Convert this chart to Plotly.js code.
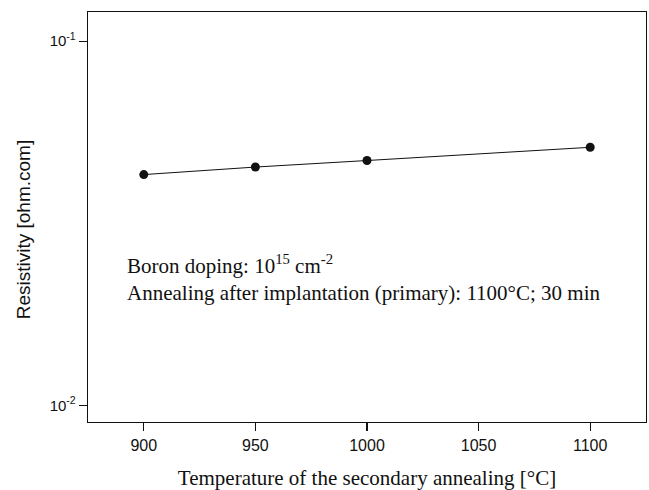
<!DOCTYPE html>
<html>
<head>
<meta charset="utf-8">
<script src="https://cdn.plot.ly/plotly-3.0.1.min.js"></script>
<style>html,body{margin:0;padding:0;background:#fff;}#chart{width:649px;height:490px;}</style>
</head>
<body>
<div id="chart"></div>
<script>
const temperatures = [900, 950, 1000, 1100];
const resistivity = [0.0430, 0.0451, 0.0470, 0.0511];
const yTickVals = [0.01, 0.1];
const yTickText = ['10<sup>-2</sup>', '10<sup>-1</sup>'];
const xTickVals = [900, 950, 1000, 1050, 1100];
const xTitle = 'Temperature of the secondary annealing [°C]';
const yTitle = 'Resistivity [ohm.com]';
const noteText = 'Boron doping: 10<sup>15</sup> cm<sup>-2</sup><br>Annealing after implantation (primary): 1100°C; 30 min';

const sans = 'Arial, "Liberation Sans", sans-serif';
const serif = '"Times New Roman", "Liberation Serif", serif';

const trace = {
  x: temperatures, y: resistivity, type: 'scatter', mode: 'lines+markers',
  line: {color: '#111', width: 1},
  marker: {color: '#111', size: 9, symbol: 'circle'},
  hoverinfo: 'none', showlegend: false
};

const layout = {
  width: 649, height: 490,
  margin: {l: 88, r: 3, t: 12, b: 68},
  paper_bgcolor: '#fff', plot_bgcolor: '#fff',
  xaxis: {
    range: [875, 1125], tickvals: xTickVals, ticks: 'outside', ticklen: 8, tickwidth: 1.2,
    tickcolor: '#111', showline: true, linecolor: '#111', linewidth: 1.3, mirror: true,
    showgrid: false, zeroline: false, tickfont: {family: sans, size: 16, color: '#111'},
    title: {text: xTitle, font: {family: serif, size: 21, color: '#111'}, standoff: 18}
  },
  yaxis: {
    type: 'log', range: [-2.046, -0.920], tickvals: yTickVals, ticktext: yTickText,
    ticks: 'outside', ticklen: 8, tickwidth: 1.2, tickcolor: '#111',
    showline: true, linecolor: '#111', linewidth: 1.3, mirror: true,
    showgrid: false, zeroline: false, tickfont: {family: sans, size: 15, color: '#111'}
  },
  annotations: [{
    xref: 'paper', yref: 'paper', x: 0.067, y: 0.423, xanchor: 'left', yanchor: 'top',
    align: 'left', showarrow: false, text: noteText,
    font: {family: serif, size: 21, color: '#111'}
  }, {
    xref: 'paper', yref: 'paper', x: -0.1165, y: 0.47, xanchor: 'center', yanchor: 'middle',
    textangle: -90, showarrow: false, text: yTitle,
    font: {family: sans, size: 19, color: '#111'}
  }]
};

Plotly.newPlot('chart', [trace], layout, {displayModeBar: false, staticPlot: true});
</script>
</body>
</html>
